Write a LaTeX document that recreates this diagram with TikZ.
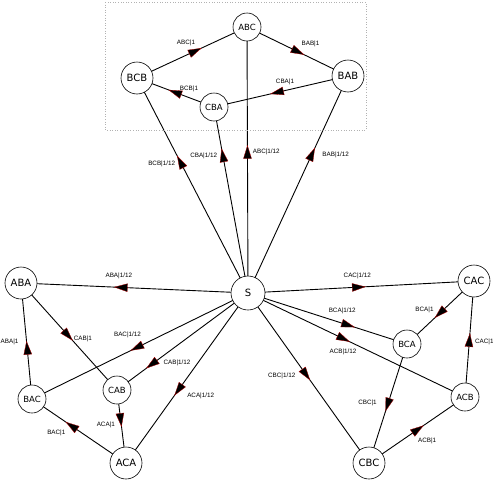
\documentclass[tikz,border=0pt]{standalone}
\usepackage{fontspec}
\setmainfont{DejaVu Sans}
\newfontfamily\labfont{Liberation Sans}
\usetikzlibrary{decorations.markings,backgrounds}
\tikzset{
  st/.style={circle,draw,line width=0.6pt,fill=white,inner sep=0pt},
  bignode/.style={st,minimum size=32pt,font=\fontsize{10}{10}\selectfont},
  smallnode/.style={st,minimum size=28pt,font=\fontsize{8.5}{8.5}\selectfont},
  snode/.style={st,minimum size=34pt,font=\fontsize{10}{10}\selectfont},
  conn/.style={line width=0.9pt,postaction={decorate},
    decoration={markings,mark=at position #1 with {\filldraw[fill=black,draw=red!70!black,line width=0.3pt] (6.5pt,0pt) -- (-6.5pt,4pt) -- (-6.5pt,-4pt) -- cycle;}}},
  lab/.style={font=\labfont\fontsize{6.3}{6.3}\selectfont,inner sep=0pt},
  groupbox/.style={draw=gray!60,dotted,line width=0.6pt}
}
\begin{document}
\begin{tikzpicture}[x=1pt,y=-1pt]
\useasboundingbox (0,0) rectangle (493,482);
\draw[groupbox] (105,2) rectangle (366,130);
% nodes
\node[smallnode] (ABC) at (247,27) {ABC};
\node[bignode] (BCB) at (137,78) {BCB};
\node[bignode] (BAB) at (348,76) {BAB};
\node[smallnode] (CBA) at (214,107) {CBA};
\node[snode] (S) at (248,293) {S};
\node[bignode] (ABA) at (21,283) {ABA};
\node[bignode] (CAC) at (474,281) {CAC};
\node[smallnode] (BCA) at (407,344) {BCA};
\node[smallnode] (BAC) at (32,399) {BAC};
\node[smallnode] (CAB) at (117,390) {CAB};
\node[smallnode] (ACB) at (465,397) {ACB};
\node[bignode] (ACA) at (126,463) {ACA};
\node[bignode] (CBC) at (369,463) {CBC};
\begin{pgfonlayer}{background}
% top group
\draw[conn=0.53] (BCB.center) -- (ABC.center) node[lab] at (186,43) {ABC|1};
\draw[conn=0.505] (ABC.center) -- (BAB.center) node[lab] at (310.5,43.7) {BAB|1};
\draw[conn=0.53] (BAB.center) -- (CBA.center) node[lab] at (285,81.7) {CBA|1};
\draw[conn=0.506] (CBA.center) -- (BCB.center) node[lab] at (189,89) {BCB|1};
% from S upwards
\draw[conn=0.61] (S.center) -- (BCB.center) node[lab] at (161.7,164.3) {BCB|1/12};
\draw[conn=0.74] (S.center) -- (CBA.center) node[lab] at (203.7,156) {CBA|1/12};
\draw[conn=0.53] (S.center) -- (ABC.center) node[lab] at (266.3,152) {ABC|1/12};
\draw[conn=0.64] (S.center) -- (BAB.center) node[lab] at (335.7,155) {BAB|1/12};
% left group
\draw[conn=0.56] (S.center) -- (ABA.center) node[lab] at (118.8,276) {ABA|1/12};
\draw[conn=0.49] (ABA.center) -- (CAB.center) node[lab] at (82.8,339.3) {CAB|1};
\draw[conn=0.44] (BAC.center) -- (ABA.center) node[lab,anchor=west] at (0.3,341.7) {ABA|1};
\draw[conn=0.515] (S.center) -- (BAC.center) node[lab] at (127.5,335) {BAC|1/12};
\draw[conn=0.735] (S.center) -- (CAB.center) node[lab] at (177,363.3) {CAB|1/12};
\draw[conn=0.41] (CAB.center) -- (ACA.center) node[lab] at (105.8,425) {ACA|1};
\draw[conn=0.58] (ACA.center) -- (BAC.center) node[lab] at (56.3,432.7) {BAC|1};
\draw[conn=0.57] (S.center) -- (ACA.center) node[lab] at (200.7,395.7) {ACA|1/12};
% right group
\draw[conn=0.49] (S.center) -- (CAC.center) node[lab] at (357.3,276) {CAC|1/12};
\draw[conn=0.51] (CAC.center) -- (BCA.center) node[lab] at (424.5,310) {BCA|1};
\draw[conn=0.49] (ACB.center) -- (CAC.center) node[lab] at (484.3,341.7) {CAC|1};
\draw[conn=0.63] (S.center) -- (BCA.center) node[lab] at (342.2,311) {BCA|1/12};
\draw[conn=0.44] (S.center) -- (ACB.center) node[lab] at (343,352.3) {ACB|1/12};
\draw[conn=0.48] (S.center) -- (CBC.center) node[lab] at (281.7,376) {CBC|1/12};
\draw[conn=0.51] (BCA.center) -- (CBC.center) node[lab] at (367.5,403.3) {CBC|1};
\draw[conn=0.51] (CBC.center) -- (ACB.center) node[lab] at (427.2,440.7) {ACB|1};
\end{pgfonlayer}
\end{tikzpicture}
\end{document}
